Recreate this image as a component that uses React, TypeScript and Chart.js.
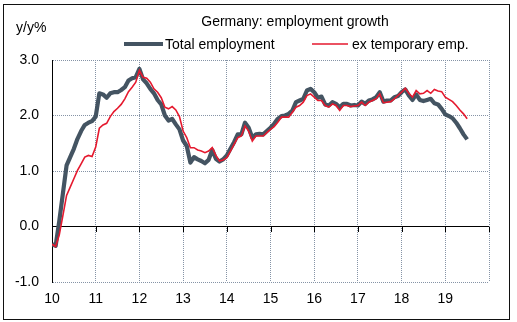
import React, { useEffect, useRef } from 'react';
import { Chart, registerables } from 'chart.js';

Chart.register(...registerables);

const TITLE = 'Germany: employment growth';
const Y_UNIT = 'y/y%';
const SERIES_NAMES = ['Total employment', 'ex temporary emp.'];
const YEAR_LABELS = ['10', '11', '12', '13', '14', '15', '16', '17', '18', '19'];
const Y_MIN = -1;
const Y_MAX = 3;

// monthly values, Jan 2010 .. Jul 2019
const totalEmployment = [
  -0.32, -0.35, 0.10, 0.60, 1.10, 1.25, 1.40, 1.58, 1.72, 1.83, 1.87, 1.90,
  1.98, 2.40, 2.38, 2.32, 2.40, 2.42, 2.42, 2.46, 2.51, 2.63, 2.67, 2.69,
  2.84, 2.65, 2.58, 2.48, 2.40, 2.28, 2.20, 2.00, 1.91, 1.94, 1.84, 1.75,
  1.55, 1.45, 1.15, 1.25, 1.21, 1.18, 1.14, 1.20, 1.38, 1.22, 1.17, 1.21,
  1.28, 1.40, 1.52, 1.66, 1.66, 1.87, 1.78, 1.60, 1.66, 1.67, 1.66, 1.72,
  1.78, 1.85, 1.94, 1.99, 2.00, 2.03, 2.09, 2.24, 2.27, 2.30, 2.45, 2.48,
  2.42, 2.32, 2.34, 2.20, 2.18, 2.24, 2.21, 2.15, 2.21, 2.21, 2.18, 2.19,
  2.18, 2.25, 2.21, 2.27, 2.29, 2.33, 2.42, 2.25, 2.27, 2.27, 2.33, 2.35,
  2.42, 2.47, 2.36, 2.28, 2.38, 2.28, 2.26, 2.28, 2.30, 2.22, 2.20, 2.12,
  2.02, 1.99, 1.95, 1.87, 1.77, 1.66, 1.57,
];

const exTemporary = [
  -0.32, -0.36, -0.15, 0.20, 0.56, 0.71, 0.86, 1.01, 1.13, 1.25, 1.28, 1.26,
  1.43, 1.77, 1.83, 1.86, 1.98, 2.07, 2.13, 2.20, 2.30, 2.43, 2.51, 2.60,
  2.81, 2.69, 2.67, 2.60, 2.48, 2.42, 2.32, 2.15, 2.12, 2.16, 2.10, 1.98,
  1.72, 1.60, 1.42, 1.42, 1.38, 1.36, 1.33, 1.36, 1.42, 1.28, 1.18, 1.20,
  1.24, 1.36, 1.48, 1.60, 1.63, 1.81, 1.72, 1.54, 1.63, 1.63, 1.63, 1.69,
  1.75, 1.80, 1.88, 1.97, 1.97, 1.97, 2.06, 2.15, 2.18, 2.24, 2.36, 2.39,
  2.33, 2.27, 2.27, 2.18, 2.15, 2.21, 2.18, 2.09, 2.18, 2.18, 2.16, 2.17,
  2.18, 2.24, 2.18, 2.24, 2.27, 2.30, 2.39, 2.23, 2.24, 2.25, 2.30, 2.36,
  2.42, 2.49, 2.40, 2.33, 2.45, 2.39, 2.40, 2.45, 2.40, 2.47, 2.44, 2.43,
  2.33, 2.29, 2.25, 2.18, 2.10, 2.03, 1.94,
];

const GREY = '#445462';
const RED = '#e5192e';
const GRID = '#8593a6';
const FONT = '"Liberation Sans", Arial, sans-serif';

const decorPlugin = {
  id: 'decor',
  afterDraw(chart: any) {
    const ctx = chart.ctx as CanvasRenderingContext2D;
    const xs = chart.scales.x;
    const ys = chart.scales.y;
    ctx.save();
    // tick marks below the zero line
    const y0 = Math.round(ys.getPixelForValue(0));
    ctx.strokeStyle = '#000';
    ctx.lineWidth = 1;
    for (let k = 1; k <= YEAR_LABELS.length; k++) {
      const px = Math.round(xs.getPixelForValue(k * 12)) + 0.5;
      ctx.beginPath();
      ctx.moveTo(px, y0);
      ctx.lineTo(px, y0 + 5);
      ctx.stroke();
    }
    // title
    ctx.fillStyle = '#000';
    ctx.font = `14px ${FONT}`;
    ctx.textBaseline = 'alphabetic';
    ctx.textAlign = 'center';
    ctx.fillText(TITLE, 295, 26);
    // unit label
    ctx.textAlign = 'left';
    ctx.fillText(Y_UNIT, 16, 32);
    // legend
    ctx.lineCap = 'butt';
    ctx.strokeStyle = GREY;
    ctx.lineWidth = 4;
    ctx.beginPath();
    ctx.moveTo(124, 44);
    ctx.lineTo(163, 44);
    ctx.stroke();
    ctx.fillText(SERIES_NAMES[0], 165, 49);
    ctx.strokeStyle = RED;
    ctx.lineWidth = 1.6;
    ctx.beginPath();
    ctx.moveTo(312, 44);
    ctx.lineTo(348, 44);
    ctx.stroke();
    ctx.fillText(SERIES_NAMES[1], 352, 49);
    // outer frame
    ctx.strokeStyle = '#111';
    ctx.lineWidth = 1;
    ctx.strokeRect(3.5, 4.5, 506, 315);
    ctx.restore();
  },
};

export default function App() {
  const ref = useRef<HTMLCanvasElement>(null);

  useEffect(() => {
    if (!ref.current) return;
    const chart = new Chart(ref.current, {
      type: 'line',
      data: {
        datasets: [
          {
            label: SERIES_NAMES[1],
            data: exTemporary.map((v, i) => ({ x: i, y: v })),
            borderColor: RED,
            borderWidth: 1.6,
            pointRadius: 0,
            tension: 0,
            order: 0,
          },
          {
            label: SERIES_NAMES[0],
            data: totalEmployment.map((v, i) => ({ x: i, y: v })),
            borderColor: GREY,
            borderWidth: 4.2,
            pointRadius: 0,
            tension: 0,
            borderJoinStyle: 'round',
            order: 1,
          },
        ],
      },
      options: {
        animation: false,
        responsive: false,
        maintainAspectRatio: false,
        layout: { padding: { left: 0, right: 28, top: 60, bottom: 0 } },
        plugins: {
          legend: { display: false },
          title: { display: false },
          tooltip: { enabled: false },
        },
        scales: {
          x: {
            type: 'linear',
            min: 0,
            max: YEAR_LABELS.length * 12,
            afterFit: (s: any) => {
              s.height = 40;
            },
            afterBuildTicks: (s: any) => {
              const t = [];
              for (let k = 0; k <= YEAR_LABELS.length; k++) t.push({ value: k * 12 });
              s.ticks = t;
            },
            ticks: {
              autoSkip: false,
              maxRotation: 0,
              padding: 9,
              color: '#000',
              font: { family: FONT, size: 14 },
              callback: (v: any) => {
                const k = Math.round(Number(v) / 12);
                return k < YEAR_LABELS.length ? YEAR_LABELS[k] : '';
              },
            },
            grid: {
              color: GRID,
              lineWidth: 1,
              drawTicks: false,
            },
            border: { display: false, dash: [1, 1] },
          },
          y: {
            min: Y_MIN,
            max: Y_MAX,
            afterFit: (s: any) => {
              s.width = 52;
            },
            ticks: {
              stepSize: 1,
              padding: 13,
              color: '#000',
              font: { family: FONT, size: 14 },
              callback: (v: any) => Number(v).toFixed(1),
            },
            grid: {
              color: (c: any) => (c.tick && c.tick.value === 0 ? '#000' : GRID),
              lineWidth: 1,
              drawTicks: false,
            },
            border: {
              display: true,
              color: '#000',
              width: 1,
              dash: (c: any) => (c.tick && c.tick.value === 0 ? [] : [1, 1]),
            },
          },
        },
      },
      plugins: [decorPlugin],
    } as any);
    return () => chart.destroy();
  }, []);

  return (
    <div style={{ position: 'fixed', left: 0, top: 0, width: 517, height: 322, background: '#fff' }}>
      <canvas ref={ref} width={517} height={322} style={{ display: 'block' }} />
    </div>
  );
}
